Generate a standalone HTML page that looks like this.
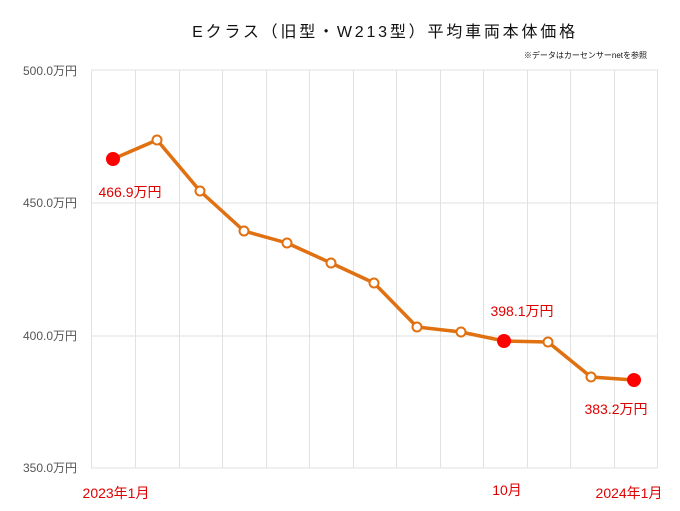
<!DOCTYPE html>
<html><head><meta charset="utf-8"><style>
body{margin:0;background:#fff;}
svg{display:block;font-family:"Liberation Sans","Noto Sans CJK JP",sans-serif;}
</style></head><body>
<svg width="680" height="511" viewBox="0 0 680 511">
<rect width="680" height="511" fill="#fff"/>
<text x="385" y="37" text-anchor="middle" font-size="16" letter-spacing="2.8" fill="#111">Eクラス（旧型・W213型）平均車両本体価格</text>
<text x="647" y="58" text-anchor="end" font-size="8" fill="#111">※データはカーセンサーnetを参照</text>
<g stroke="#e2e2e2" stroke-width="1">
<line x1="91" y1="70" x2="658" y2="70"/>
<line x1="91" y1="203" x2="658" y2="203"/>
<line x1="91" y1="336" x2="658" y2="336"/>
<line x1="91" y1="468" x2="658" y2="468"/>
<line x1="91.5" y1="70" x2="91.5" y2="468"/>
<line x1="135.5" y1="70" x2="135.5" y2="468"/>
<line x1="179.5" y1="70" x2="179.5" y2="468"/>
<line x1="222.5" y1="70" x2="222.5" y2="468"/>
<line x1="266.5" y1="70" x2="266.5" y2="468"/>
<line x1="309.5" y1="70" x2="309.5" y2="468"/>
<line x1="353.5" y1="70" x2="353.5" y2="468"/>
<line x1="396.5" y1="70" x2="396.5" y2="468"/>
<line x1="440.5" y1="70" x2="440.5" y2="468"/>
<line x1="483.5" y1="70" x2="483.5" y2="468"/>
<line x1="527.5" y1="70" x2="527.5" y2="468"/>
<line x1="570.5" y1="70" x2="570.5" y2="468"/>
<line x1="614.5" y1="70" x2="614.5" y2="468"/>
<line x1="657.5" y1="70" x2="657.5" y2="468"/>
</g>
<g font-size="12" fill="#555" text-anchor="end">
<text x="77" y="75">500.0万円</text>
<text x="77" y="207">450.0万円</text>
<text x="77" y="340">400.0万円</text>
<text x="77" y="472">350.0万円</text>
</g>
<polyline fill="none" stroke="#e07010" stroke-width="3.5" stroke-linejoin="round" points="113,159 157,140 200,191 244,231 287,243 331,263 374,283 417,327 461,332 504,341 548,342 591,377 634,380"/>
<g fill="#fff" stroke="#e07010" stroke-width="2">
<circle cx="157" cy="140" r="4.5"/><circle cx="200" cy="191" r="4.5"/><circle cx="244" cy="231" r="4.5"/><circle cx="287" cy="243" r="4.5"/><circle cx="331" cy="263" r="4.5"/><circle cx="374" cy="283" r="4.5"/><circle cx="417" cy="327" r="4.5"/><circle cx="461" cy="332" r="4.5"/><circle cx="548" cy="342" r="4.5"/><circle cx="591" cy="377" r="4.5"/>
</g>
<g fill="#ff0000">
<circle cx="113" cy="159" r="7"/><circle cx="504" cy="341" r="7"/><circle cx="634" cy="380" r="7"/>
</g>
<g font-size="14" fill="#e00000" text-anchor="middle">
<text x="130" y="197">466.9万円</text>
<text x="522" y="316">398.1万円</text>
<text x="616" y="414">383.2万円</text>
<text x="116" y="498">2023年1月</text>
<text x="507" y="495">10月</text>
<text x="629" y="498">2024年1月</text>
</g>
</svg>
</body></html>
